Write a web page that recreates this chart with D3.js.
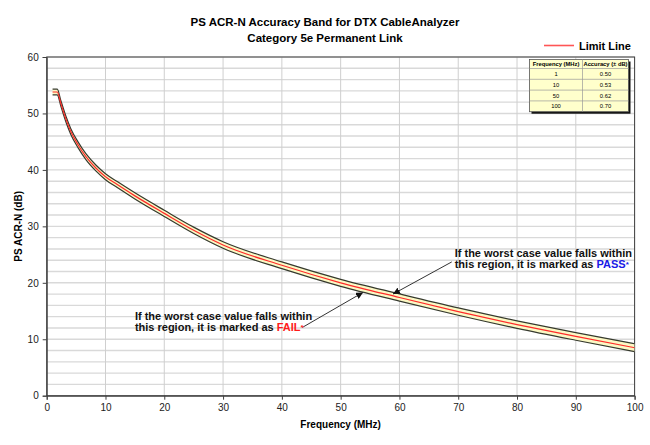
<!DOCTYPE html>
<html>
<head>
<meta charset="utf-8">
<script src="https://cdn.jsdelivr.net/npm/d3@7"></script>
<style>
  body { margin: 0; background: #fff; }
  svg { display: block; font-family: "Liberation Sans", Arial, sans-serif; }
</style>
</head>
<body>
<div id="chart"></div>
<script>
// values
const freq = [1, 1.8, 2.4, 3.3, 4.1, 5.3, 6.7, 8.4, 10, 12, 15, 20, 25, 30, 40, 50, 60, 70, 80, 90, 100];
const limitLine = [53.8, 53.8, 51.8, 48.9, 46.8, 44.5, 42.3, 40.3, 38.8, 37.4, 35.4, 32.3, 29.3, 26.7, 23.1, 20.0, 17.4, 14.9, 12.6, 10.5, 8.5];
const accuracy = [0.50, 0.50, 0.50, 0.51, 0.51, 0.51, 0.52, 0.52, 0.53, 0.53, 0.54, 0.55, 0.56, 0.58, 0.60, 0.62, 0.64, 0.65, 0.67, 0.68, 0.70];

const tableFreq = ["1", "10", "50", "100"];
const tableAcc = ["0.50", "0.53", "0.62", "0.70"];

const xTicks = [0, 10, 20, 30, 40, 50, 60, 70, 80, 90, 100];
const yTicks = [0, 10, 20, 30, 40, 50, 60];

// annotation anchors in data units
const passNote = { x: 69.4, y: 24.5, from: [68.9, 23.7], to: [58.9, 18.0] };
const failNote = { x: 15.0, y: 13.4, from: [43.5, 12.1], to: [53.8, 18.3] };

const width = 650, height = 445;
const margin = { top: 57, right: 15.4, bottom: 49.3, left: 46.7 };

const svg = d3.select("#chart").append("svg")
  .attr("width", width)
  .attr("height", height);

svg.append("rect").attr("width", width).attr("height", height).attr("fill", "#fff");

const x = d3.scaleLinear().domain([0, 100]).range([margin.left, width - margin.right]);
const y = d3.scaleLinear().domain([0, 60]).range([height - margin.bottom, margin.top]);

const points = freq.map((f, i) => ({ f, v: limitLine[i], a: accuracy[i] }));

// grid
svg.append("g")
  .selectAll("line")
  .data(y.ticks(30))
  .join("line")
  .attr("x1", x(0)).attr("x2", x(100))
  .attr("y1", d => y(d)).attr("y2", d => y(d))
  .attr("stroke", "#d9d9d9")
  .attr("stroke-width", 1.4);

svg.append("g")
  .selectAll("line")
  .data(xTicks)
  .join("line")
  .attr("x1", d => x(d)).attr("x2", d => x(d))
  .attr("y1", y(0)).attr("y2", y(60))
  .attr("stroke", "#cfcfcf")
  .attr("stroke-width", 1);

// frame
svg.append("rect")
  .attr("x", x(0)).attr("y", y(60))
  .attr("width", x(100) - x(0)).attr("height", y(0) - y(60))
  .attr("fill", "none")
  .attr("stroke", "#404040")
  .attr("stroke-width", 1);

// axes
const xAxis = svg.append("g")
  .attr("transform", `translate(0,${y(0)})`)
  .call(d3.axisBottom(x).tickValues(xTicks).tickSize(4).tickPadding(4));
const yAxis = svg.append("g")
  .attr("transform", `translate(${x(0)},0)`)
  .call(d3.axisLeft(y).tickValues(yTicks).tickSize(4).tickPadding(4));

[xAxis, yAxis].forEach(g => {
  g.select(".domain").attr("stroke", "#404040");
  g.selectAll(".tick line").attr("stroke", "#404040");
  g.selectAll(".tick text")
    .attr("fill", "#222")
    .style("font-family", "'Liberation Sans Narrow', 'Arial Narrow', 'Liberation Sans', sans-serif")
    .style("font-size", "10px");
});

// accuracy band
svg.append("clipPath").attr("id", "plot-clip")
  .append("rect")
  .attr("x", x(0)).attr("y", y(60))
  .attr("width", x(100) - x(0)).attr("height", y(0) - y(60));

const band = svg.append("g").attr("clip-path", "url(#plot-clip)");

band.append("path")
  .datum(points)
  .attr("fill", "#fbf8c4")
  .attr("d", d3.area()
    .x(d => x(d.f))
    .y0(d => y(d.v - d.a))
    .y1(d => y(d.v + d.a))
    .curve(d3.curveMonotoneX));

const upper = d3.line().x(d => x(d.f)).y(d => y(d.v + d.a)).curve(d3.curveMonotoneX);
const lower = d3.line().x(d => x(d.f)).y(d => y(d.v - d.a)).curve(d3.curveMonotoneX);
const mid = d3.line().x(d => x(d.f)).y(d => y(d.v)).curve(d3.curveMonotoneX);

band.append("path").datum(points).attr("d", upper)
  .attr("fill", "none").attr("stroke", "#363a2e").attr("stroke-width", 1.2);
band.append("path").datum(points).attr("d", lower)
  .attr("fill", "none").attr("stroke", "#363a2e").attr("stroke-width", 1.2);
band.append("path").datum(points).attr("d", mid)
  .attr("fill", "none").attr("stroke", "#ff2a2a").attr("stroke-width", 1.2);

// titles
svg.append("text")
  .attr("x", 325).attr("y", 26)
  .attr("text-anchor", "middle")
  .style("font-size", "11.5px").style("font-weight", "bold")
  .text("PS ACR-N Accuracy Band for DTX CableAnalyzer");
svg.append("text")
  .attr("x", 325).attr("y", 41.5)
  .attr("text-anchor", "middle")
  .style("font-size", "11.5px").style("font-weight", "bold")
  .text("Category 5e Permanent Link");

svg.append("text")
  .attr("x", (x(0) + x(100)) / 2).attr("y", 428)
  .attr("text-anchor", "middle")
  .style("font-size", "10px").style("font-weight", "bold")
  .text("Frequency (MHz)");

svg.append("text")
  .attr("transform", `translate(22,${(y(0) + y(60)) / 2}) rotate(-90)`)
  .attr("text-anchor", "middle")
  .style("font-size", "10px").style("font-weight", "bold")
  .text("PS ACR-N (dB)");

// legend
svg.append("line")
  .attr("x1", 544).attr("x2", 574).attr("y1", 45.5).attr("y2", 45.5)
  .attr("stroke", "#ff5555").attr("stroke-width", 1.6);
svg.append("text")
  .attr("x", 579).attr("y", 49.5)
  .style("font-size", "11px").style("font-weight", "bold")
  .text("Limit Line");

// accuracy table
const tbl = svg.append("g").attr("transform", "translate(529.5,59.5)");
const colW = [53, 46], headH = 9, rowH = 10.8;
const tblW = colW[0] + colW[1], tblH = headH + rowH * tableFreq.length;
tbl.append("rect")
  .attr("x", 2).attr("y", 2).attr("width", tblW).attr("height", tblH)
  .attr("fill", "#111");
tbl.append("rect")
  .attr("width", tblW).attr("height", tblH)
  .attr("fill", "#ffffcc").attr("stroke", "#555").attr("stroke-width", 0.8);
tbl.append("line")
  .attr("x1", colW[0]).attr("x2", colW[0]).attr("y1", 0).attr("y2", tblH)
  .attr("stroke", "#999").attr("stroke-width", 0.7);
tbl.selectAll("line.row")
  .data(tableFreq)
  .join("line")
  .attr("class", "row")
  .attr("x1", 0).attr("x2", tblW)
  .attr("y1", (d, i) => headH + i * rowH).attr("y2", (d, i) => headH + i * rowH)
  .attr("stroke", "#999").attr("stroke-width", 0.7);

const header = ["Frequency (MHz)", "Accuracy (\u00b1 dB)"];
tbl.selectAll("text.head")
  .data(header)
  .join("text")
  .attr("class", "head")
  .attr("x", (d, i) => i === 0 ? colW[0] / 2 : colW[0] + colW[1] / 2)
  .attr("y", headH - 2.3)
  .attr("text-anchor", "middle")
  .style("font-size", "5.8px")
  .style("font-weight", "bold")
  .text(d => d);

tableFreq.forEach((f, i) => {
  const ty = headH + i * rowH + rowH / 2 + 2;
  tbl.append("text")
    .attr("x", colW[0] / 2).attr("y", ty)
    .attr("text-anchor", "middle")
    .style("font-size", "5.8px")
    .text(f);
  tbl.append("text")
    .attr("x", colW[0] + colW[1] / 2).attr("y", ty)
    .attr("text-anchor", "middle")
    .style("font-size", "5.8px")
    .text(tableAcc[i]);
});

// annotations
const defs = svg.append("defs");
defs.append("marker")
  .attr("id", "arrow")
  .attr("viewBox", "0 0 10 10")
  .attr("refX", 10).attr("refY", 5)
  .attr("markerWidth", 7).attr("markerHeight", 7)
  .attr("markerUnits", "userSpaceOnUse")
  .attr("orient", "auto")
  .append("path")
  .attr("d", "M0,0 L10,5 L0,10 z")
  .attr("fill", "#111");

const note = (n, word, color) => {
  svg.append("line")
    .attr("x1", x(n.from[0])).attr("y1", y(n.from[1]))
    .attr("x2", x(n.to[0])).attr("y2", y(n.to[1]))
    .attr("stroke", "#333").attr("stroke-width", 1)
    .attr("marker-end", "url(#arrow)");
  const t = svg.append("text")
    .attr("x", x(n.x)).attr("y", y(n.y))
    .style("font-size", "11px").style("font-weight", "bold")
    .attr("fill", "#111");
  t.append("tspan").text("If the worst case value falls within");
  const l2 = t.append("tspan").attr("x", x(n.x)).attr("dy", 10.6);
  l2.append("tspan").text("this region, it is marked as ");
  l2.append("tspan").attr("fill", color).text(word);
  l2.append("tspan").attr("fill", color).attr("dy", -1).style("font-size", "8px").text("*");
};

note(passNote, "PASS", "#1a1ae6");
note(failNote, "FAIL", "#ff1a1a");
</script>
</body>
</html>
